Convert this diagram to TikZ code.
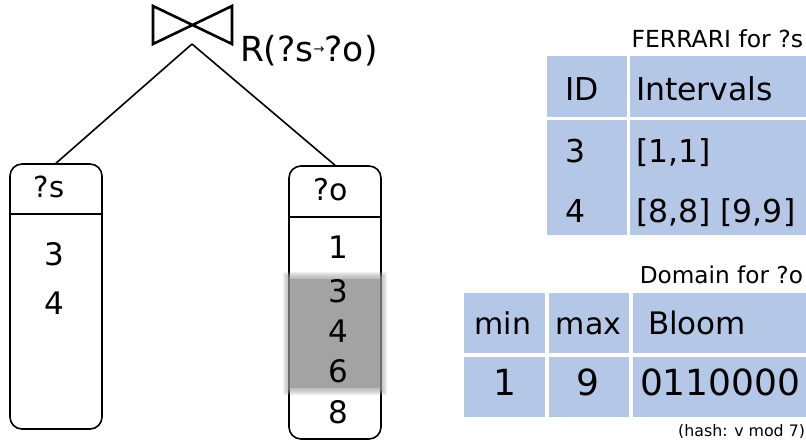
\documentclass[tikz,border=0pt]{standalone}
\usepackage{fontspec}
\setmainfont{DejaVu Sans}
\definecolor{cellblue}{HTML}{B4C7E7}
\definecolor{hlgray}{HTML}{A3A3A3}
\newcommand{\fsz}[1]{\fontsize{#1}{#1}\selectfont}
\begin{document}
\begin{tikzpicture}[x=1pt,y=-1pt,
  txt/.style={inner sep=0pt, outer sep=0pt},
  colbox/.style={draw, line width=1.6pt, rounded corners=12pt, minimum width=92pt, inner sep=0pt},
  edge/.style={line width=1.6pt},
  cellfill/.style={fill=cellblue}]
\useasboundingbox (0,0) rectangle (806,444);

% join symbol
\coordinate (apex) at (192,44);
\draw[line width=2.6pt, line join=miter] (153,6) -- (153,44) -- (232,6) -- (232,44) -- cycle;
\node[txt, anchor=base west] (rlabel) at (240,62) {\fsz{34.5}R(?s\raisebox{8pt}{\fsz{13}→}?o)};

% columns
\node[colbox, minimum height=265pt] (sbox) at (56,296.5) {};
\node[colbox, minimum height=273pt] (obox) at (335,302.5) {};
\draw[edge] (apex) -- (sbox.north);
\draw[edge] (apex) -- (obox.north);
\draw[edge] (sbox.west |- 0,214) -- (sbox.east |- 0,214);
\draw[edge] (obox.west |- 0,217) -- (obox.east |- 0,217);

% blurred highlight
\foreach \i in {7,6,5,4,3,2,1}{
  \fill[hlgray, opacity=0.16] ({290-\i},{279-\i}) rectangle ({380+\i},{388+\i});
}
\fill[hlgray] (290,279) rectangle (380,388);

\node[txt, anchor=base] (shead) at (49,197) {\fsz{29}?s};
\node[txt, anchor=base] (s3) at (54,265) {\fsz{31}3};
\node[txt, anchor=base] (s4) at (54,314) {\fsz{31}4};

\node[txt, anchor=base] (ohead) at (331,200) {\fsz{30}?o};
\node[txt, anchor=base] (o1) at (338,258) {\fsz{31}1};
\node[txt, anchor=base] (o3) at (338,302) {\fsz{31}3};
\node[txt, anchor=base] (o4) at (338,342) {\fsz{31}4};
\node[txt, anchor=base] (o6) at (338,382) {\fsz{31}6};
\node[txt, anchor=base] (o8) at (338,423) {\fsz{31}8};

% FERRARI table
\node[txt, anchor=base east] (ftitle) at (803,48) {\fsz{23.5}FERRARI for ?s};
\fill[cellfill] (547,56) rectangle (627,117);
\fill[cellfill] (630,56) rectangle (806,117);
\fill[cellfill] (547,120) rectangle (627,235);
\fill[cellfill] (630,120) rectangle (806,235);
\node[txt, anchor=base west] (fid) at (565,100) {\fsz{31.5}ID};
\node[txt, anchor=base west] (fint) at (636,100) {\fsz{31.5}Intervals};
\node[txt, anchor=base west] (f3) at (565,162) {\fsz{31.5}3};
\node[txt, anchor=base west] (f11) at (636,162) {\fsz{31.5}[1,1]};
\node[txt, anchor=base west] (f4) at (565,222) {\fsz{31.5}4};
\node[txt, anchor=base west] (f89) at (636,222) {\fsz{31.5}[8,8] [9,9]};

% Domain table
\node[txt, anchor=base east] (dtitle) at (803,283) {\fsz{23.2}Domain for ?o};
\fill[cellfill] (464,293) rectangle (545,353);
\fill[cellfill] (549,293) rectangle (629,353);
\fill[cellfill] (633,293) rectangle (806,353);
\fill[cellfill] (464,357) rectangle (545,417);
\fill[cellfill] (549,357) rectangle (629,417);
\fill[cellfill] (633,357) rectangle (806,417);
\node[txt, anchor=base] (dmin) at (503,334) {\fsz{30}min};
\node[txt, anchor=base] (dmax) at (588.5,334) {\fsz{30}max};
\node[txt, anchor=base west] (dbloom) at (648,334) {\fsz{31}Bloom};
\node[txt, anchor=base] (d1) at (505,395) {\fsz{36}1};
\node[txt, anchor=base] (d9) at (588,395) {\fsz{36}9};
\node[txt, anchor=base west] (dbits) at (640,395) {\fsz{36}0110000};
\node[txt, anchor=base east] (dhash) at (805,436) {\fsz{15.8}(hash: v mod 7)};
\end{tikzpicture}
\end{document}
